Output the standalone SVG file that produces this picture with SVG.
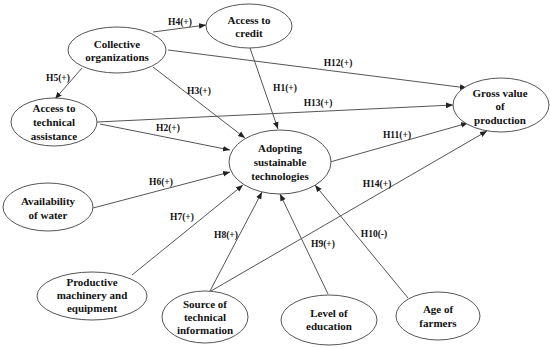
<svg xmlns="http://www.w3.org/2000/svg" width="550" height="347" viewBox="0 0 550 347">
<defs>
<marker id="ah" viewBox="0 0 10 10" refX="10" refY="5" markerWidth="7" markerHeight="7" orient="auto" markerUnits="userSpaceOnUse">
<path d="M0,1 L10,5 L0,9 z" fill="#222"/>
</marker>
<style>
.n ellipse{fill:#fff;stroke:#555;stroke-width:1}
.n text{font-family:"Liberation Serif",serif;font-weight:bold;font-size:11px;fill:#111;text-anchor:middle}
.e line{stroke:#555;stroke-width:1;marker-end:url(#ah)}
.l text{font-family:"Liberation Serif",serif;font-weight:bold;font-size:9.5px;fill:#111;text-anchor:middle}
</style>
</defs>
<rect width="550" height="347" fill="#fff"/>
<g id="connectors" class="e">
<line x1="153" y1="32" x2="206" y2="25"/>
<line x1="82" y1="68" x2="55" y2="99"/>
<line x1="153" y1="67" x2="245" y2="138"/>
<line x1="168" y1="50" x2="467" y2="88"/>
<line x1="250" y1="48" x2="278" y2="129"/>
<line x1="97" y1="122" x2="453" y2="105"/>
<line x1="100" y1="124" x2="230" y2="150"/>
<line x1="330" y1="162" x2="468" y2="123"/>
<line x1="93" y1="208" x2="230" y2="172"/>
<line x1="132" y1="275" x2="243" y2="185"/>
<line x1="210" y1="291" x2="262" y2="192"/>
<line x1="211" y1="291" x2="487" y2="131"/>
<line x1="328" y1="294" x2="280" y2="194"/>
<line x1="408" y1="298" x2="315" y2="185"/>
</g>
<g id="labels" class="l">
<text x="180" y="25">H4(+)</text>
<text x="58" y="81">H5(+)</text>
<text x="199" y="94">H3(+)</text>
<text x="338" y="66">H12(+)</text>
<text x="285" y="91">H1(+)</text>
<text x="318" y="106">H13(+)</text>
<text x="168" y="131">H2(+)</text>
<text x="397" y="138">H11(+)</text>
<text x="161" y="185">H6(+)</text>
<text x="182" y="220">H7(+)</text>
<text x="226" y="238">H8(+)</text>
<text x="377" y="187">H14(+)</text>
<text x="323" y="247">H9(+)</text>
<text x="374" y="237">H10(-)</text>
</g>
<g id="collective" class="n"><ellipse cx="117" cy="50" rx="49" ry="23"/><text x="117" y="48">Collective</text><text x="117" y="61">organizations</text></g>
<g id="credit" class="n"><ellipse cx="249" cy="26" rx="43" ry="22"/><text x="249" y="24">Access to</text><text x="249" y="37">credit</text></g>
<g id="assistance" class="n"><ellipse cx="54" cy="122" rx="43" ry="24"/><text x="54" y="112">Access to</text><text x="54" y="126">technical</text><text x="54" y="140">assistance</text></g>
<g id="adopting" class="n"><ellipse cx="280" cy="162" rx="51" ry="32"/><text x="280" y="152">Adopting</text><text x="280" y="166">sustainable</text><text x="280" y="180">technologies</text></g>
<g id="gross" class="n"><ellipse cx="501" cy="105" rx="48" ry="27"/><text x="500" y="97">Gross value</text><text x="500" y="110">of</text><text x="500" y="124">production</text></g>
<g id="water" class="n"><ellipse cx="48" cy="207" rx="45" ry="24"/><text x="48" y="205">Availability</text><text x="48" y="219">of water</text></g>
<g id="machinery" class="n"><ellipse cx="92" cy="296" rx="55" ry="24"/><text x="92" y="286">Productive</text><text x="92" y="299">machinery  and</text><text x="92" y="312">equipment</text></g>
<g id="source" class="n"><ellipse cx="205" cy="317" rx="43" ry="26"/><text x="205" y="308">Source of</text><text x="205" y="321">technical</text><text x="205" y="334">information</text></g>
<g id="education" class="n"><ellipse cx="329" cy="320" rx="48" ry="25"/><text x="329" y="317">Level of</text><text x="329" y="330">education</text></g>
<g id="age" class="n"><ellipse cx="438" cy="316" rx="42" ry="24"/><text x="438" y="313">Age of</text><text x="438" y="327">farmers</text></g>
</svg>
